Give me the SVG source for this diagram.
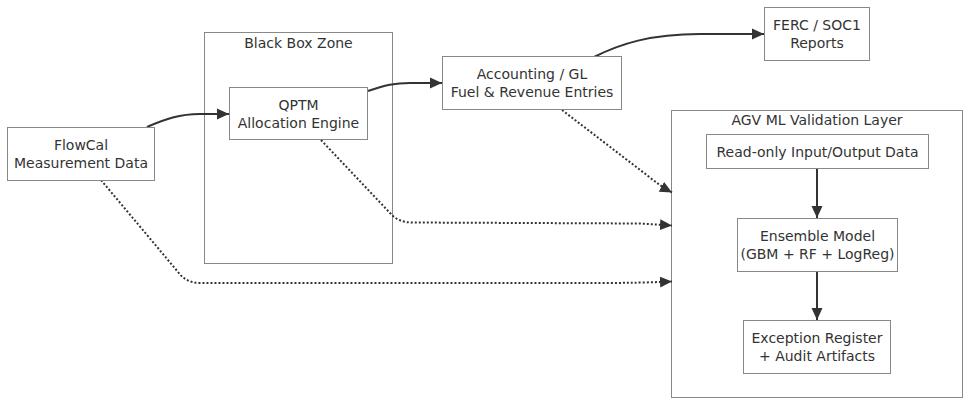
<svg xmlns="http://www.w3.org/2000/svg" width="979" height="409" viewBox="0 0 979 409">
<style>
  .cluster { fill: #ffffff; stroke: #888888; stroke-width: 1; }
  .node rect { fill: #ffffff; stroke: #888888; stroke-width: 1; }
  text { font-family: "DejaVu Sans", "Liberation Sans", sans-serif; font-size: 14px; fill: #333333; text-anchor: middle; }
  .edge { fill: none; stroke: #333333; stroke-width: 2; }
  .dotted { stroke-dasharray: 2 2; }
</style>
<defs>
  <marker id="arrow" markerUnits="userSpaceOnUse" markerWidth="12" markerHeight="12" viewBox="0 0 12 12" refX="12" refY="6" orient="auto">
    <path d="M0,0.5 L12,6 L0,11.5 Z" fill="#333333"/>
  </marker>
</defs>
<rect width="979" height="409" fill="#ffffff"/>

<g id="cluster-blackbox">
  <rect class="cluster" x="204.5" y="32.5" width="188" height="231"/>
  <text x="298.5" y="47.5">Black Box Zone</text>
</g>
<g id="cluster-agv">
  <rect class="cluster" x="671.5" y="110.5" width="291" height="287"/>
  <text x="817" y="125">AGV ML Validation Layer</text>
</g>

<g id="edges">
  <path class="edge" d="M147,127 C165,119 180,114 200,114 L229,114" marker-end="url(#arrow)"/>
  <path class="edge" d="M368,91 C385,85 395,83 410,83 L442,83" marker-end="url(#arrow)"/>
  <path class="edge" d="M594,57 C620,44 650,34 700,34 L764,34" marker-end="url(#arrow)"/>
  <path class="edge dotted" d="M101,180 L178,272 Q186,283 200,283 L600,283 Q640,283 672,281.5" marker-end="url(#arrow)"/>
  <path class="edge dotted" d="M321,140 L390,213 Q398,222.5 412,222.5 L640,223.5 L672,225.5" marker-end="url(#arrow)"/>
  <path class="edge dotted" d="M562,110 L648,176 Q660,186 672,192.5" marker-end="url(#arrow)"/>
  <path class="edge" d="M817,169 L817,218" marker-end="url(#arrow)"/>
  <path class="edge" d="M817,271 L817,320" marker-end="url(#arrow)"/>
</g>

<g id="flowcal" class="node">
  <rect x="7.5" y="127.5" width="147" height="53"/>
  <text x="81" y="150">FlowCal</text>
  <text x="81" y="168">Measurement Data</text>
</g>
<g id="qptm" class="node">
  <rect x="229.5" y="87.5" width="138" height="52"/>
  <text x="298.5" y="109.5">QPTM</text>
  <text x="298.5" y="127.5">Allocation Engine</text>
</g>
<g id="accounting" class="node">
  <rect x="442.5" y="56.5" width="179" height="53"/>
  <text x="532" y="79">Accounting / GL</text>
  <text x="532" y="97">Fuel &amp; Revenue Entries</text>
</g>
<g id="ferc" class="node">
  <rect x="764.5" y="7.5" width="105" height="53"/>
  <text x="817" y="30">FERC / SOC1</text>
  <text x="817" y="48">Reports</text>
</g>
<g id="readonly" class="node">
  <rect x="706.5" y="134.5" width="222" height="34"/>
  <text x="817.5" y="156.5">Read-only Input/Output Data</text>
</g>
<g id="ensemble" class="node">
  <rect x="737.5" y="218.5" width="160" height="53"/>
  <text x="817.5" y="240.5">Ensemble Model</text>
  <text x="817.5" y="258.5">(GBM + RF + LogReg)</text>
</g>
<g id="exception" class="node">
  <rect x="743.5" y="320.5" width="147" height="53"/>
  <text x="817" y="342.5">Exception Register</text>
  <text x="817" y="360.5">+ Audit Artifacts</text>
</g>
</svg>
